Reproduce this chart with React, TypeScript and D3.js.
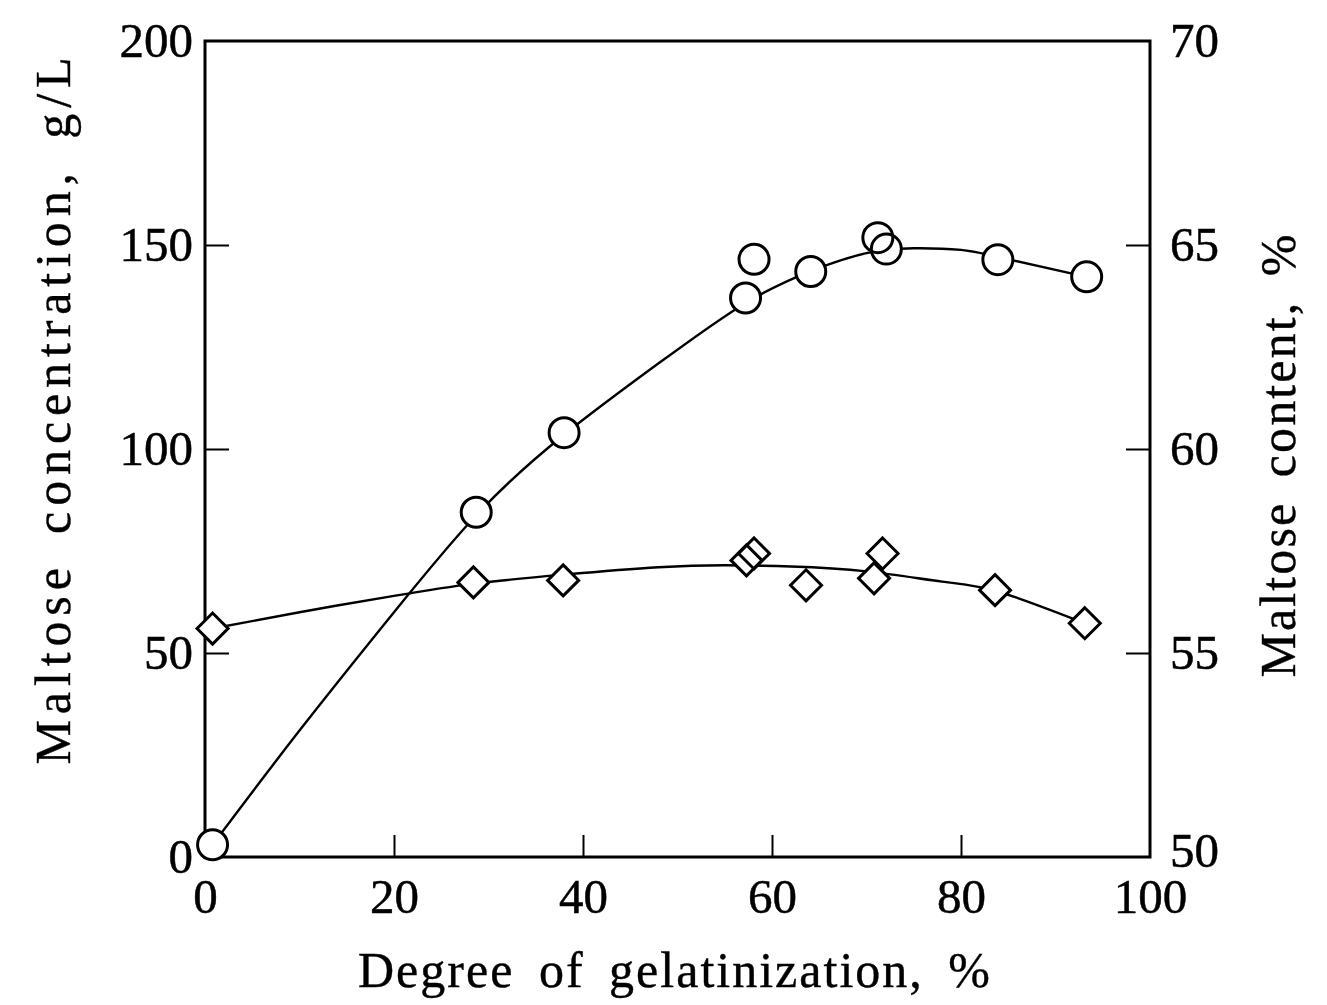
import React, { useRef, useEffect } from "react";
import * as d3 from "d3";

// degree of gelatinization (%) for each measured point
const circleX = [0.8, 28.7, 38, 57.2, 58.1, 64.1, 71.2, 72.1, 83.9, 93.3];
const concentration = [3, 84.5, 104, 137, 146.5, 143.5, 151.8, 149, 146.4, 142.2];

const diamondX = [0.8, 28.4, 37.9, 57.3, 58.1, 63.6, 70.8, 71.7, 83.6, 93.1];
const content = [55.6, 56.73, 56.78, 57.27, 57.44, 56.66, 56.83, 57.44, 56.54, 55.73];

// hand-drawn fit curves
const concFitX = [0.8, 10, 20, 29, 38, 48, 57, 64, 70, 75, 80, 84, 93.3];
const concFitY = [3, 31, 60, 84.5, 103.5, 121, 135.5, 143.5, 148, 149.2, 148.8, 147, 142.2];
const contFitX = [0.8, 10, 20, 28.5, 38, 48, 55, 62, 70, 78, 84, 93.1];
const contFitY = [55.6, 56.0, 56.4, 56.7, 56.92, 57.1, 57.15, 57.12, 57.0, 56.75, 56.5, 55.73];

const xTicks = [0, 20, 40, 60, 80, 100];
const leftTicks = [0, 50, 100, 150, 200];
const rightTicks = [50, 55, 60, 65, 70];

const W = 1327;
const H = 1005;
const left = 205;
const right = 1150;
const top = 41;
const bottom = 857;
const font = "'Liberation Serif', 'Times New Roman', serif";

export default function App() {
  const ref = useRef<SVGSVGElement>(null);

  useEffect(() => {
    const svg = d3.select(ref.current);
    svg.selectAll("*").remove();

    const x = d3.scaleLinear().domain([0, 100]).range([left, right]);
    const yL = d3.scaleLinear().domain([0, 200]).range([bottom, top]);
    const yR = d3.scaleLinear().domain([50, 70]).range([bottom, top]);

    const styleAxis = (g: any) => {
      g.select(".domain").remove();
      g.selectAll("line").attr("stroke", "#000").attr("stroke-width", 2);
      g.selectAll("text")
        .attr("fill", "#000")
        .attr("stroke", "#000")
        .attr("stroke-width", 0.5)
        .style("font-family", font)
        .style("font-size", "49px");
    };

    svg
      .append("g")
      .attr("transform", `translate(0,${bottom})`)
      .call(
        d3.axisBottom(x).tickValues(xTicks).tickSizeInner(-22).tickSizeOuter(0).tickPadding(21)
      )
      .call(styleAxis)
      .call((g: any) => g.selectAll(".tick line").filter((d: number) => d === 0 || d === 100).remove());

    svg
      .append("g")
      .attr("transform", `translate(${left},0)`)
      .call(d3.axisLeft(yL).tickValues(leftTicks).tickSizeInner(-24).tickSizeOuter(0).tickPadding(12))
      .call(styleAxis)
      .call((g: any) => g.selectAll(".tick line").filter((d: number) => d === 0 || d === 200).remove());

    svg
      .append("g")
      .attr("transform", `translate(${right},0)`)
      .call(d3.axisRight(yR).tickValues(rightTicks).tickSizeInner(-24).tickSizeOuter(0).tickPadding(20))
      .call(styleAxis)
      .call((g: any) => g.selectAll(".tick line").filter((d: number) => d === 50 || d === 70).remove())
      .call((g: any) => g.selectAll(".tick").filter((d: number) => d === 50).select("text").attr("dy", "0.2em"));

    // frame
    svg
      .append("rect")
      .attr("x", left)
      .attr("y", top)
      .attr("width", right - left)
      .attr("height", bottom - top)
      .attr("fill", "none")
      .attr("stroke", "#000")
      .attr("stroke-width", 3);

    // fit curves
    const concLine = d3
      .line<number>()
      .x((d, i) => x(concFitX[i]))
      .y((d) => yL(d))
      .curve(d3.curveNatural);
    const contLine = d3
      .line<number>()
      .x((d, i) => x(contFitX[i]))
      .y((d) => yR(d))
      .curve(d3.curveNatural);

    svg
      .append("path")
      .attr("d", concLine(concFitY))
      .attr("fill", "none")
      .attr("stroke", "#000")
      .attr("stroke-width", 2.4);
    svg
      .append("path")
      .attr("d", contLine(contFitY))
      .attr("fill", "none")
      .attr("stroke", "#000")
      .attr("stroke-width", 2.4);

    const circles = concentration.map((v, i) => ({ cx: x(circleX[i]), cy: yL(v) }));
    const diamonds = content.map((v, i) => ({ cx: x(diamondX[i]), cy: yR(v) }));
    const dr = 15.5;
    const diamondPath = (d: any) =>
      `M${d.cx},${d.cy - dr}L${d.cx + dr},${d.cy}L${d.cx},${d.cy + dr}L${d.cx - dr},${d.cy}Z`;

    // white fills first so overlapping outlines stay visible
    svg.append("g").selectAll("circle").data(circles).join("circle")
      .attr("cx", (d) => d.cx).attr("cy", (d) => d.cy).attr("r", 15).attr("fill", "#fff");
    svg.append("g").selectAll("path").data(diamonds).join("path")
      .attr("d", diamondPath).attr("fill", "#fff");

    svg.append("g").selectAll("circle").data(circles).join("circle")
      .attr("cx", (d) => d.cx).attr("cy", (d) => d.cy).attr("r", 15)
      .attr("fill", "none").attr("stroke", "#000").attr("stroke-width", 3);
    svg.append("g").selectAll("path").data(diamonds).join("path")
      .attr("d", diamondPath).attr("fill", "none").attr("stroke", "#000")
      .attr("stroke-width", 3).attr("stroke-linejoin", "miter");

    // axis titles
    const title = (sel: any) =>
      sel
        .attr("text-anchor", "middle")
        .attr("fill", "#000")
        .attr("stroke", "#000")
        .attr("stroke-width", 0.4)
        .attr("lengthAdjust", "spacing")
        .style("font-family", font)
        .style("font-size", "50px")
        .style("word-spacing", "10px");

    svg.append("text")
      .attr("x", 674).attr("y", 987)
      .attr("textLength", 632)
      .call(title)
      .text("Degree of gelatinization, %");

    svg.append("text")
      .attr("transform", "translate(70,411) rotate(-90)")
      .attr("textLength", 707)
      .call(title)
      .text("Maltose concentration, g/L");

    svg.append("text")
      .attr("transform", "translate(1295,456) rotate(-90)")
      .attr("textLength", 443)
      .call(title)
      .text("Maltose content, %");
  }, []);

  return (
    <svg
      ref={ref}
      width={W}
      height={H}
      style={{ position: "absolute", left: 0, top: 0, background: "#fff" }}
    />
  );
}
